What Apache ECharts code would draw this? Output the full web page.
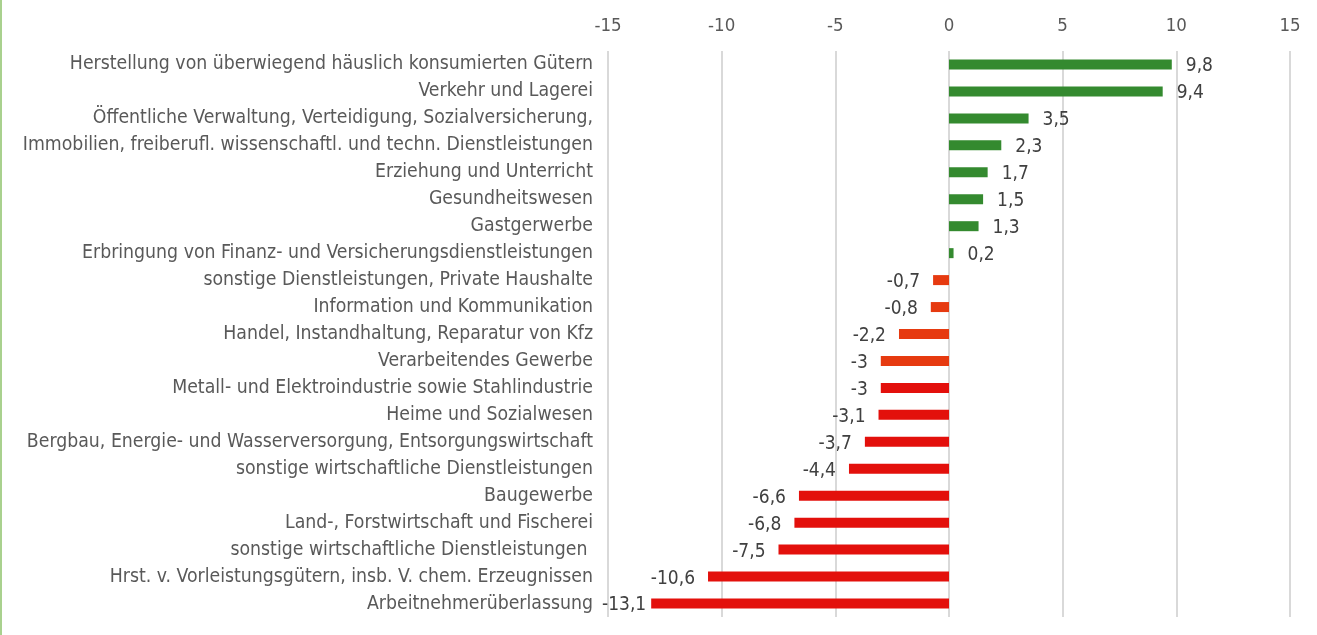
<!DOCTYPE html>
<html><head><meta charset="utf-8">
<script src="https://cdn.jsdelivr.net/npm/echarts@6/dist/echarts.min.js"></script>
<style>html,body{margin:0;padding:0;background:#fff}#c{width:1317px;height:635px}</style>
</head><body><div id="c"></div>
<script>
const categories = [
  "Herstellung von überwiegend häuslich konsumierten Gütern",
  "Verkehr und Lagerei",
  "Öffentliche Verwaltung, Verteidigung, Sozialversicherung,",
  "Immobilien, freiberufl. wissenschaftl. und techn. Dienstleistungen",
  "Erziehung und Unterricht",
  "Gesundheitswesen",
  "Gastgerwerbe",
  "Erbringung von Finanz- und Versicherungsdienstleistungen",
  "sonstige Dienstleistungen, Private Haushalte",
  "Information und Kommunikation",
  "Handel, Instandhaltung, Reparatur von Kfz",
  "Verarbeitendes Gewerbe",
  "Metall- und Elektroindustrie sowie Stahlindustrie",
  "Heime und Sozialwesen",
  "Bergbau, Energie- und Wasserversorgung, Entsorgungswirtschaft",
  "sonstige wirtschaftliche Dienstleistungen",
  "Baugewerbe",
  "Land-, Forstwirtschaft und Fischerei",
  "sonstige wirtschaftliche Dienstleistungen ",
  "Hrst. v. Vorleistungsgütern, insb. V. chem. Erzeugnissen",
  "Arbeitnehmerüberlassung"
];
const values = [9.8, 9.4, 3.5, 2.3, 1.7, 1.5, 1.3, 0.2, -0.7, -0.8, -2.2, -3, -3, -3.1, -3.7, -4.4, -6.6, -6.8, -7.5, -10.6, -13.1];
const xTicks = [-15, -10, -5, 0, 5, 10, 15];
// categories whose bars are drawn in the lighter orange-red
const orangeGroup = [8, 9, 10, 11];

const GREEN = '#348a2f', RED = '#e3100c', ORANGE = '#e63a10';
const FONT = '"DejaVu Sans Condensed", "Noto Sans", sans-serif';

const chart = echarts.init(document.getElementById('c'));
chart.setOption({
  animation: false,
  grid: { left: 608, right: 27, top: 51, bottom: 18 },
  xAxis: {
    type: 'value', position: 'top',
    min: xTicks[0], max: xTicks[xTicks.length - 1], interval: 5,
    axisLine: { show: false }, axisTick: { show: false },
    axisLabel: { color: '#595959', fontSize: 18.5, fontFamily: FONT, margin: 15 },
    splitLine: { lineStyle: { color: '#d9d9d9', width: 2 } }
  },
  yAxis: {
    type: 'category', inverse: true, data: categories,
    axisLine: { show: false }, axisTick: { show: false },
    axisLabel: { color: '#595959', fontSize: 19.3, fontFamily: FONT, margin: 15, padding: [4, 0, 0, 0] }
  },
  series: [{
    type: 'bar', barWidth: 10,
    data: values.map((v, i) => ({
      value: v,
      itemStyle: { color: v >= 0 ? GREEN : (orangeGroup.includes(i) ? ORANGE : RED) },
      label: { position: v >= 0 ? 'right' : 'left', distance: v >= 0 ? 14 : (v < -12 ? 5 : 13) }
    })),
    label: {
      show: true, color: '#404040', fontSize: 19, fontFamily: FONT, offset: [0, 2],
      formatter: p => String(p.value).replace('.', ',')
    }
  }],
  graphic: [{ type: 'rect', left: 0, top: 0, shape: { x: 0, y: 0, width: 2, height: 635 }, style: { fill: '#a9d18e' } }]
});
</script></body></html>
